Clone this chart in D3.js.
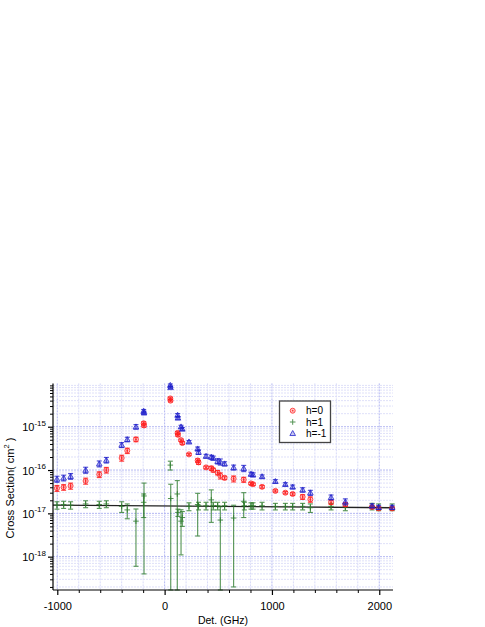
<!DOCTYPE html>
<html>
<head>
<meta charset="utf-8">
<script src="https://cdn.jsdelivr.net/npm/d3@7"></script>
<style>
  body { margin: 0; background: #fff; }
  text { font-family: "Liberation Sans", Arial, sans-serif; }
</style>
</head>
<body>
<script>
// values in units of 1e-17 cm^2
var UNIT = 1e-17;

var det = [-1003,-941,-876,-736,-609,-543,-400,-348,-267,-195,-192,53,55,121,124,153,165,227,308,316,386,435,453,494,519,559,643,737,805,824,908,1032,1125,1193,1286,1358,1551,1684,1933,1994,2120];

var hm1 = [6.2,6.6,7.2,10,14,17,38,51,100,230,210,910,810,186,160,100,89,45,31,26,21,20,19,16,15.5,14,11.5,11,8.1,7.8,7.1,5.5,4.7,4.1,3.5,3.0,2.35,1.86,1.5,1.38,1.38];
var hm1Err = [1.0,1.0,1.1,1.6,2.2,2.5,5,6,12,20,18,60,50,15,12,8,7,3,3,3,2,2,2,2.2,2.5,1.5,1.5,1.8,0.8,0.8,0.6,0.5,0.4,0.4,0.4,0.4,0.3,0.3,0.15,0.15,0.15];

var h0 = [3.8,4.0,4.3,5.6,7.9,10,19,28,51,120,107,450,400,72,65,49,42,23,16.6,15,11.5,11,10,8.7,7.4,6.6,6.3,6.0,4.9,4.7,4.1,3.3,3.0,2.8,2.4,2.1,1.8,1.6,1.4,1.3,1.3];
var h0Err = [0.6,0.6,0.7,0.9,1.2,1.5,3,4,6,10,9,30,25,6,5,3,3,1.2,1.5,1.5,0.8,1.2,1.0,1.0,1.2,0.6,1.0,0.8,0.3,0.3,0.3,0.2,0.2,0.2,0.3,0.3,0.2,0.15,0.1,0.1,0.1];

var det1 = [-1003,-941,-876,-736,-609,-543,-400,-348,-267,-195,-192,53,57,118,124,153,165,227,308,316,386,435,453,494,519,559,643,737,743,805,824,908,1032,1125,1193,1286,1358,1551,1684,1933,1994,2120];
var h1 = [1.55,1.6,1.55,1.65,1.6,1.65,1.45,1.2,0.66,1.8,2.52,13,2.2,2.8,1.05,0.66,0.8,1.45,1.6,1.5,1.5,2.05,1.5,1.5,0.7,1.5,0.78,1.9,1.5,1.5,1.5,1.5,1.45,1.45,1.45,1.45,1.35,1.45,1.4,1.45,1.4,1.4];
var h1Err = [0.3,0.3,0.3,0.3,0.3,0.3,0.4,0.45,0.6,1.0,2.48,3,2.5,2.9,0.2,0.55,0.3,0.3,1.3,0.3,0.3,1.43,0.3,0.3,0.72,0.3,0.76,1.1,0.3,0.25,0.25,0.3,0.25,0.25,0.25,0.25,0.3,0.25,0.25,0.25,0.25,0.25];

// linear fit of h=1: a + b*det (units 1e-17)
var fitCoef = [1.487, -0.000066];

var xMajor = [-1000, 0, 1000, 2000];
var yMajor = [1e-18, 1e-17, 1e-16, 1e-15];
var legendLabels = ["h=0", "h=1", "h=-1"];

var W = 485, H = 627;
var svg = d3.select("body").append("svg").attr("width", W).attr("height", H);

var x = d3.scaleLinear().domain([-1040, 2128]).range([53, 393]);
var y = d3.scaleLog().domain([1.7e-19, 1e-14]).range([590, 383.4]);

var red = "#ff1a1a", blue = "#1f1fcc", green = "#2a7a2a";

// grid
var gridG = svg.append("g");
var minorX = d3.range(-1000, 2101, 200);
gridG.selectAll("line.gx").data(minorX).enter().append("line")
  .attr("x1", function(d){ return x(d); }).attr("x2", function(d){ return x(d); })
  .attr("y1", 383.4).attr("y2", 590)
  .attr("stroke", function(d){ return d % 1000 === 0 ? "#b4b8f2" : "#d8daf8"; })
  .attr("stroke-width", 1)
  .attr("stroke-dasharray", "2,1");

var minorY = [];
for (var e = -19; e <= -15; e++) {
  for (var k = 1; k <= 9; k++) {
    var v = k * Math.pow(10, e);
    if (v >= 1.7e-19 && v <= 1e-14) minorY.push([v, k]);
  }
}
gridG.selectAll("line.gy").data(minorY).enter().append("line")
  .attr("x1", 53).attr("x2", 393)
  .attr("y1", function(d){ return y(d[0]); }).attr("y2", function(d){ return y(d[0]); })
  .attr("stroke", function(d){ return d[1] === 1 ? "#b4b8f2" : "#dfe0f9"; })
  .attr("stroke-width", 1)
  .attr("stroke-dasharray", "2,1");

// fit line
var fitLine = d3.line()
  .x(function(d){ return x(d); })
  .y(function(d){ return y((fitCoef[0] + fitCoef[1] * d) * UNIT); });
svg.append("path").attr("d", fitLine(x.domain()))
  .attr("fill", "none").attr("stroke", "#222").attr("stroke-width", 1.3);

var drawMarker = function(g, cx, cy, color, shape){
  if (shape === "circle") {
    g.append("circle").attr("cx", cx).attr("cy", cy).attr("r", 2.5)
      .attr("fill", "rgba(255,40,40,0.3)").attr("stroke", color).attr("stroke-width", 1).attr("opacity", 0.8);
    g.append("circle").attr("cx", cx).attr("cy", cy).attr("r", 0.9).attr("fill", color).attr("opacity", 0.8);
  }
  if (shape === "tri") {
    var s = 2.8;
    g.append("path")
      .attr("d", "M" + cx + "," + (cy - s) + "L" + (cx + s) + "," + (cy + s * 0.8) + "L" + (cx - s) + "," + (cy + s * 0.8) + "Z")
      .attr("fill", "rgba(30,30,200,0.3)").attr("stroke", color).attr("stroke-width", 1).attr("opacity", 0.8);
  }
  if (shape === "plus") {
    g.append("path").attr("d", "M" + (cx - 2.8) + "," + cy + "H" + (cx + 2.8) + "M" + cx + "," + (cy - 2.8) + "V" + (cy + 2.8))
      .attr("stroke", color).attr("stroke-width", 1).attr("opacity", 0.8);
  }
};

// error bars + markers
var drawSeries = function(dets, vals, errs, color, shape){
  var g = svg.append("g");
  var ybot = y.range()[0];
  dets.forEach(function(dv, i){
    var v = vals[i] * UNIT, er = errs[i] * UNIT;
    var cx = x(dv);
    var yHi = y(v + er);
    var yLo = (v - er) > y.domain()[0] ? y(v - er) : ybot;
    var eg = g.append("g").attr("stroke", color).attr("stroke-width", 1.1).attr("opacity", 0.8);
    eg.append("line").attr("x1", cx).attr("x2", cx).attr("y1", yHi).attr("y2", yLo);
    eg.append("line").attr("x1", cx - 2.5).attr("x2", cx + 2.5).attr("y1", yHi).attr("y2", yHi);
    eg.append("line").attr("x1", cx - 2.5).attr("x2", cx + 2.5).attr("y1", yLo).attr("y2", yLo);
    drawMarker(g, cx, y(v), color, shape);
  });
};

drawSeries(det1, h1, h1Err, green, "plus");
drawSeries(det, h0, h0Err, red, "circle");
drawSeries(det, hm1, hm1Err, blue, "tri");

// axes
var xAxis = d3.axisBottom(x).tickValues(xMajor).tickSize(5).tickFormat(function(d){ return String(d); });
var xg = svg.append("g").attr("transform", "translate(0,590)").call(xAxis);
xg.select(".domain").attr("d", "M53,0H393").attr("stroke-width", 1.2);
xg.selectAll("text").attr("font-size", 11).attr("dy", "1.05em").attr("fill", "#000")
  .style("font-family", "'Liberation Sans', Arial, sans-serif");
xg.selectAll(".tick line").attr("stroke-width", 1.2);
var xMinor = d3.axisBottom(x).tickValues(minorX.filter(function(d){ return d % 1000 !== 0; })).tickSize(3).tickFormat("");
var xmg = svg.append("g").attr("transform", "translate(0,590)").call(xMinor);
xmg.select(".domain").remove();

var yg = svg.append("g").attr("transform", "translate(53,0)")
  .call(d3.axisLeft(y).tickValues(yMajor).tickSize(5).tickFormat(""));
yg.select(".domain").attr("d", "M0,383.4V590").attr("stroke-width", 1.2);
yg.selectAll(".tick line").attr("stroke-width", 1.2);
var ymg = svg.append("g").attr("transform", "translate(53,0)")
  .call(d3.axisLeft(y).tickValues(minorY.filter(function(d){ return d[1] !== 1; }).map(function(d){ return d[0]; })).tickSize(3).tickFormat(""));
ymg.select(".domain").remove();

yMajor.forEach(function(v){
  var t = svg.append("text").attr("x", 46).attr("y", y(v) + 4.5)
    .attr("text-anchor", "end").attr("font-size", 11);
  t.append("tspan").text("10");
  t.append("tspan").attr("font-size", 8).attr("dy", -5.5).text(String(Math.round(Math.log10(v))));
});

// titles
svg.append("text").attr("x", 223).attr("y", 627).attr("dy", "-0.25em")
  .attr("text-anchor", "middle").attr("font-size", 10.5).text("Det. (GHz)");
var yt = svg.append("text").attr("transform", "translate(14,488) rotate(-90)")
  .attr("text-anchor", "middle").attr("font-size", 11);
yt.append("tspan").text("Cross Section( cm");
yt.append("tspan").attr("font-size", 7.5).attr("dy", -5).text("2");
yt.append("tspan").attr("dy", 5).text(" )");

// legend
var lg = svg.append("g");
lg.append("rect").attr("x", 279.5).attr("y", 401).attr("width", 51).attr("height", 41.5)
  .attr("fill", "#fff").attr("stroke", "#444").attr("stroke-width", 1.3);
var legShapes = ["circle", "plus", "tri"];
var legColors = [red, green, blue];
legendLabels.forEach(function(lab, i){
  var ly = 410.7 + i * 11.3;
  drawMarker(lg, 292.7, ly, legColors[i], legShapes[i]);
  lg.append("text").attr("x", 306).attr("y", ly + 3.5).attr("font-size", 10).text(lab);
});
</script>
</body>
</html>
